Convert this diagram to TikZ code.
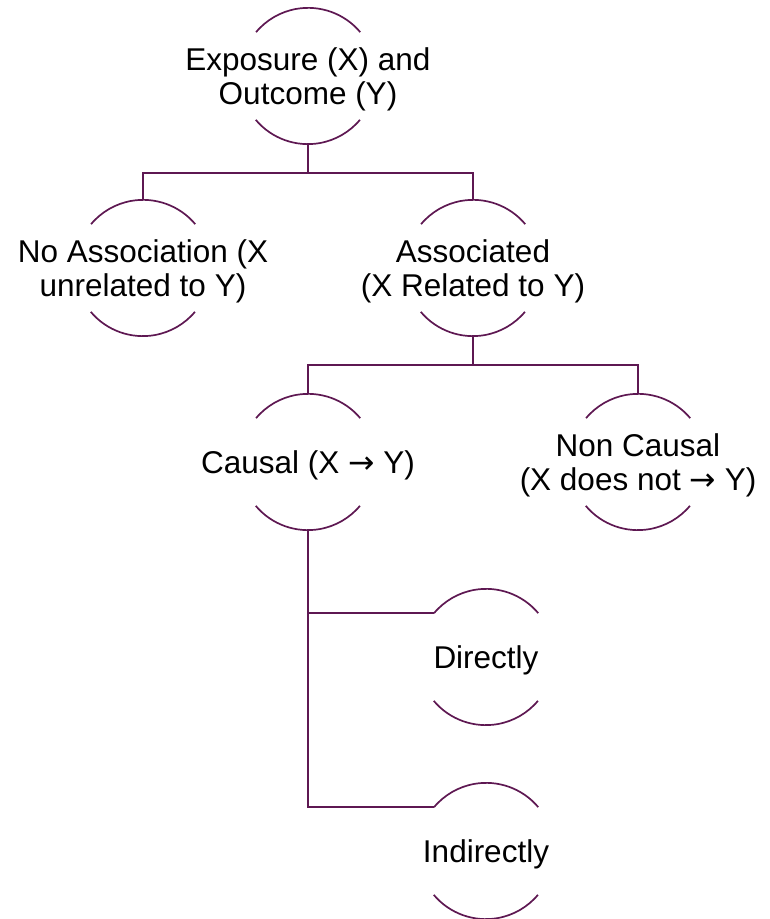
\documentclass[tikz,border=0pt]{standalone}
\usepackage{fontspec}
\setmainfont{Liberation Sans}
\newfontfamily\arrowfont{DejaVu Sans}
\newcommand{\rarr}{{\arrowfont →}}
\definecolor{plum}{RGB}{94,24,82}
\begin{document}
\begin{tikzpicture}[x=1pt,y=1pt,
  ring/.style={circle,minimum size=136pt,inner sep=0pt,draw=none},
  lbl/.style={align=center,inner sep=0pt,yshift=-3pt,font=\fontsize{31.5}{34}\selectfont},
  wire/.style={draw=plum,line width=1.7pt},
  arcs/.style={draw=plum,line width=1.7pt}]
\useasboundingbox (0,0) rectangle (769,919);
\node[ring] (top) at (308,843) {};
\node[ring] (noassoc) at (143,651) {};
\node[ring] (assoc) at (473,651) {};
\node[ring] (causal) at (308,457) {};
\node[ring] (noncausal) at (638,457) {};
\node[ring] (direct) at (486,262) {};
\node[ring] (indirect) at (486,68) {};
\foreach \n in {top,noassoc,assoc,causal,noncausal,direct,indirect}{
  \draw[arcs] (\n.40) arc[start angle=40,end angle=140,radius=68];
  \draw[arcs] (\n.220) arc[start angle=220,end angle=320,radius=68];
}
\node[lbl] (ttop) at (top.center) {Exposure (X) and\\Outcome (Y)};
\node[lbl] (tnoassoc) at (noassoc.center) {No Association (X\\unrelated to Y)};
\node[lbl] (tassoc) at (assoc.center) {Associated\\(X Related to Y)};
\node[lbl] (tcausal) at (causal.center) {Causal (X \rarr{} Y)};
\node[lbl] (tnoncausal) at (noncausal.center) {Non Causal\\(X does not \rarr{} Y)};
\node[lbl] (tdirect) at (direct.center) {Directly};
\node[lbl] (tindirect) at (indirect.center) {Indirectly};
\coordinate (b1) at ([yshift=-29pt]top.south);
\coordinate (b2) at ([yshift=-29pt]assoc.south);
\draw[wire] (top.south) -- (b1) -| (noassoc.north);
\draw[wire] (b1) -| (assoc.north);
\draw[wire] (assoc.south) -- (b2) -| (causal.north);
\draw[wire] (b2) -| (noncausal.north);
\draw[wire] (causal.south) |- (direct.140);
\draw[wire] (causal.south) |- (indirect.140);
\end{tikzpicture}
\end{document}
